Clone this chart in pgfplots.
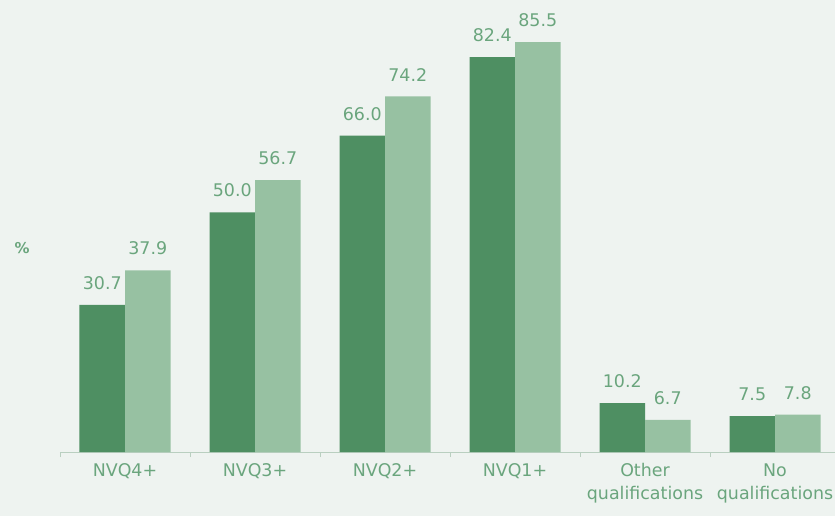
\documentclass[border=0pt]{standalone}
\usepackage{pgfplots}
\pgfplotsset{compat=1.18}
\usepackage{fontspec}
\setmainfont{DejaVu Sans}
\definecolor{darkg}{HTML}{4E8F62}
\definecolor{lightg}{HTML}{97C1A2}
\definecolor{bgc}{HTML}{EEF3F0}
\definecolor{txtg}{HTML}{6AA57D}
\definecolor{axg}{HTML}{B9CFC0}
\begin{document}
\begin{tikzpicture}
\fill[bgc] (-60bp,-64bp) rectangle (775bp,452bp);
\begin{axis}[
  at={(0,0)}, anchor=south west,
  scale only axis, width=775bp, height=452bp,
  xmin=-0.5, xmax=5.4615, ymin=0, ymax=94.3,
  axis y line=none, axis x line*=bottom,
  x axis line style={draw=axg, line width=0.8pt, -},
  xtick={0,1,2,3,4,5},
  xticklabels={NVQ4+,NVQ3+,NVQ2+,NVQ1+,Other\\qualifications,No\\qualifications},
  xticklabel style={font=\fontsize{17.5}{23}\selectfont, text=txtg, align=center, anchor=north, yshift=-8bp},
  major tick length=0pt,
  minor xtick={-0.5,0.5,1.5,2.5,3.5,4.5},
  minor tick length=5bp,
  tick style={draw=axg, line width=0.8pt},
  tick align=outside,
  ybar=0pt, bar width=0.35,
  nodes near coords,
  nodes near coords style={font=\fontsize{17.5}{20}\selectfont, text=txtg, inner sep=0pt, yshift=15bp, /pgf/number format/.cd, fixed, fixed zerofill, precision=1, assume math mode=true},
  point meta=explicit,
  clip=false,
]
\addplot[fill=darkg, draw=none, bar shift=-0.175] coordinates {(0,30.7)[30.7] (1,50.0)[50.0] (2,66.0)[66.0] (3,82.4)[82.4] (4,10.2)[10.2] (5,7.5)[7.5]};
\addplot[fill=lightg, draw=none, bar shift=0.175] coordinates {(0,37.9)[37.9] (1,56.7)[56.7] (2,74.2)[74.2] (3,85.5)[85.5] (4,6.7)[6.7] (5,7.8)[7.8]};
\node[font=\fontsize{15}{18}\selectfont\bfseries, text=txtg] at (axis description cs:0,0.451) [xshift=-38bp] {\%};
\end{axis}
\pgfresetboundingbox
\path[use as bounding box] (-60bp,-64bp) rectangle (775bp,452bp);
\end{tikzpicture}
\end{document}
